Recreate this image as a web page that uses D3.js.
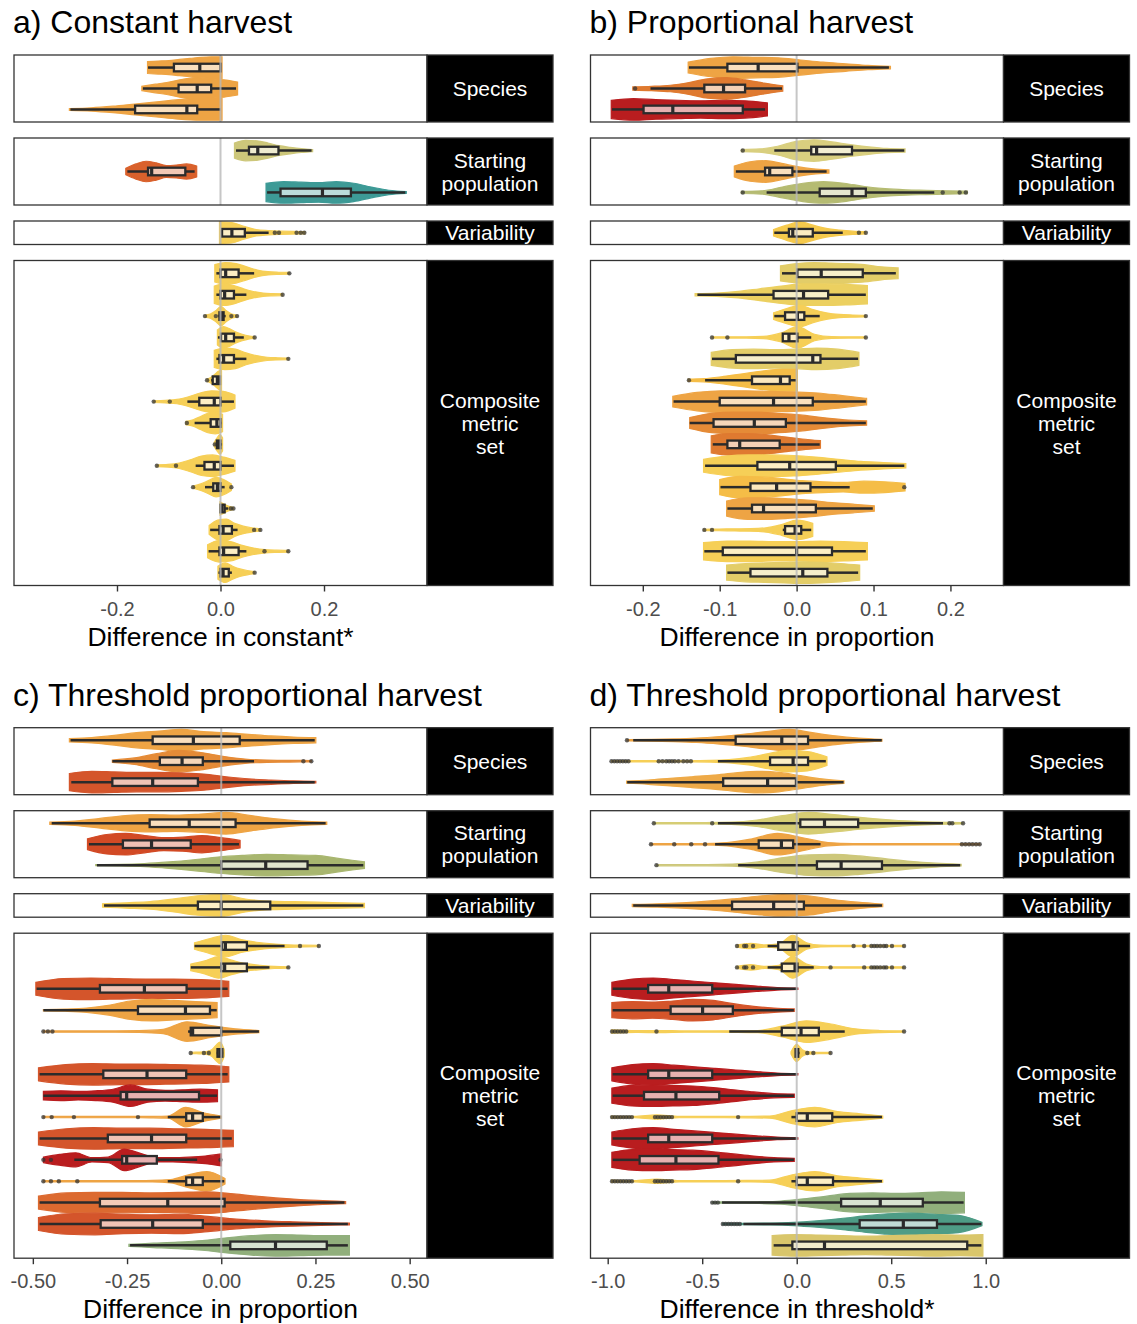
<!DOCTYPE html>
<html>
<head>
  <script src="https://d3js.org/d3.v7.min.js"></script>
  <style>
    body { margin: 0; background: #fff; }
    text { font-family: "Liberation Sans", Arial, sans-serif; }
  </style>
</head>
<body>
<div id="chart"></div>
<script>

// colours
var YEL = "#f6cf57", KHA = "#e3cd68", OLV = "#cdc77a", OLG = "#b5bb72",
    SAG = "#91af7c", TEA = "#3d9a96", TEG = "#4e9c86", SAN = "#d9c66b",
    YLO = "#f5bd47", ORA = "#eea444", ORD = "#e58b37", DOR = "#df7a30",
    ROR = "#d4552b", RED = "#b91d1f";

var facetNames = [["Species"], ["Starting", "population"], ["Variability"], ["Composite", "metric", "set"]];
var facetRows = [3, 3, 1, 15];

var panelTitles = ["a) Constant harvest", "b) Proportional harvest",
                   "c) Threshold proportional harvest", "d) Threshold proportional harvest"];
var axisTitles = ["Difference in constant*", "Difference in proportion",
                  "Difference in proportion", "Difference in threshold*"];
var axisTicks = [[-0.2, 0, 0.2], [-0.2, -0.1, 0, 0.1, 0.2],
                 [-0.5, -0.25, 0, 0.25, 0.5], [-1, -0.5, 0, 0.5, 1]];
var tickDigits = [1, 1, 2, 1];
var axisDomains = [[-0.399, 0.399], [-0.268, 0.269], [-0.550, 0.546], [-1.091, 1.094]];

// each row: [colour, violin min, violin max, violin half-widths (evenly spaced), lower whisker, q1, median, q3, upper whisker, outliers]
var constantRows = [
  [ORA, -0.141, 0.003, [0.55, 0.6, 0.65, 0.75, 0.85, 0.95, 1, 1], -0.14, -0.09, -0.04, 0.0, 0.0, []],
  [ORA, -0.152, 0.033, [0.2, 0.4, 0.6, 0.85, 1, 0.9, 0.8, 0.6], -0.15, -0.081, -0.045, -0.018, 0.03, []],
  [ORA, -0.292, 0.003, [0.08, 0.15, 0.3, 0.5, 0.7, 0.9, 1, 1], -0.29, -0.165, -0.065, -0.045, 0.0, []],
  [OLV, 0.027, 0.178, [0.7, 0.95, 0.9, 0.7, 0.45, 0.3, 0.18, 0.1], 0.03, 0.055, 0.072, 0.112, 0.176, []],
  ["#d9612c", -0.183, -0.046, [0.3, 0.7, 0.95, 0.8, 0.55, 0.6, 0.7, 0.5], -0.18, -0.14, -0.133, -0.068, -0.05, []],
  [TEA, 0.088, 0.359, [0.85, 1, 0.95, 0.9, 1, 0.85, 0.5, 0.2, 0.08], 0.09, 0.116, 0.197, 0.252, 0.357, []],
  [YEL, -0.002, 0.163, [1, 0.95, 0.6, 0.3, 0.2, 0.15, 0.12, 0.1], 0.003, 0.003, 0.022, 0.047, 0.093, [0.105, 0.113, 0.147, 0.155, 0.162]],
  [YEL, -0.011, 0.133, [0.8, 1, 0.9, 0.6, 0.3, 0.15, 0.1, 0.08], -0.008, 0.0, 0.010, 0.035, 0.065, [0.133]],
  [YEL, -0.012, 0.120, [0.8, 1, 0.85, 0.55, 0.3, 0.15, 0.1, 0.08], -0.008, 0.0, 0.008, 0.026, 0.05, [0.12]],
  [YEL, -0.030, 0.032, [0.1, 0.2, 0.5, 0.9, 0.5, 0.2, 0.1], -0.004, -0.002, 0.002, 0.006, 0.010, [-0.03, -0.009, 0.021, 0.032]],
  [YEL, -0.006, 0.066, [0.7, 1, 0.8, 0.5, 0.3, 0.15, 0.08], -0.005, 0.001, 0.010, 0.026, 0.045, [0.066]],
  [YEL, -0.012, 0.131, [0.8, 1, 0.9, 0.55, 0.3, 0.15, 0.1, 0.08], -0.008, -0.002, 0.006, 0.026, 0.05, [0.131]],
  [YEL, -0.026, 0.002, [0.1, 0.25, 0.5, 0.8, 1], -0.018, -0.015, -0.006, -0.001, 0.0, [-0.026]],
  [YEL, -0.129, 0.028, [0.08, 0.12, 0.2, 0.45, 0.8, 1, 0.95, 0.6], -0.064, -0.041, -0.012, 0.0, 0.026, [-0.129, -0.098]],
  [YEL, -0.067, 0.004, [0.15, 0.3, 0.6, 0.9, 1, 0.8], -0.05, -0.019, -0.007, 0.0, 0.002, [-0.065]],
  [YEL, -0.012, 0.004, [0.2, 0.6, 0.9, 0.6], -0.009, -0.007, -0.003, 0.0, 0.003, [-0.011]],
  [YEL, -0.123, 0.028, [0.08, 0.12, 0.25, 0.55, 0.9, 1, 0.8, 0.5], -0.048, -0.031, -0.012, 0.0, 0.026, [-0.123, -0.086]],
  [YEL, -0.053, 0.021, [0.1, 0.3, 0.6, 0.9, 0.7, 0.3], -0.03, -0.014, -0.006, 0.0, 0.008, [-0.053, 0.021]],
  [YEL, -0.001, 0.025, [0.6, 0.4, 0.2, 0.1], 0.0, 0.0, 0.003, 0.008, 0.015, [0.02, 0.025]],
  [YEL, -0.022, 0.077, [0.4, 0.9, 1, 0.6, 0.35, 0.2, 0.1], -0.02, -0.002, 0.005, 0.022, 0.033, [0.065, 0.077]],
  [YEL, -0.025, 0.131, [0.6, 1, 0.9, 0.55, 0.3, 0.15, 0.1, 0.08], -0.023, -0.002, 0.006, 0.035, 0.05, [0.085, 0.131]],
  [YEL, -0.005, 0.066, [0.6, 0.9, 0.6, 0.35, 0.2, 0.1], -0.004, 0.0, 0.005, 0.016, 0.022, [0.066]]
];

var proportionalRows = [
  [ORA, -0.141, 0.122, [0.5, 0.85, 1, 0.95, 0.9, 0.7, 0.5, 0.35, 0.2, 0.12], -0.14, -0.09, -0.05, 0.001, 0.12, []],
  [DOR, -0.213, -0.018, [0.15, 0.2, 0.3, 0.55, 0.9, 1, 0.8, 0.5, 0.25], -0.19, -0.12, -0.095, -0.067, -0.019, [-0.21]],
  [RED, -0.241, -0.038, [0.85, 1, 0.9, 0.85, 0.8, 0.85, 0.8, 0.6], -0.24, -0.199, -0.161, -0.07, -0.041, []],
  ["#d9cf7f", -0.072, 0.141, [0.1, 0.15, 0.4, 0.85, 1, 0.8, 0.55, 0.35, 0.2, 0.15], -0.029, 0.019, 0.026, 0.072, 0.14, [-0.07]],
  [ORA, -0.081, 0.042, [0.5, 0.9, 1, 0.75, 0.45, 0.25, 0.15], -0.079, -0.041, -0.035, -0.0055, 0.039, []],
  [OLG, -0.072, 0.222, [0.1, 0.15, 0.5, 0.85, 1, 0.85, 0.55, 0.35, 0.25, 0.2, 0.15, 0.12], -0.039, 0.03, 0.072, 0.09, 0.179, [-0.07, 0.19, 0.212, 0.22]],
  ["#f5c94c", -0.030, 0.090, [0.3, 0.7, 1, 0.7, 0.4, 0.25, 0.15, 0.1], -0.029, -0.01, -0.005, 0.021, 0.06, [0.081, 0.09]],
  [KHA, -0.021, 0.132, [0.7, 0.9, 1, 0.95, 0.9, 0.8, 0.6, 0.5], -0.019, 0.001, 0.032, 0.086, 0.129, []],
  ["#ecd060", -0.132, 0.092, [0.1, 0.15, 0.3, 0.55, 0.8, 1, 1, 0.95, 0.85], -0.129, -0.03, 0.009, 0.041, 0.09, []],
  [YEL, -0.030, 0.090, [0.3, 0.7, 1, 0.6, 0.3, 0.15, 0.1, 0.08], -0.029, -0.015, 0.001, 0.01, 0.03, [0.09]],
  [YEL, -0.110, 0.090, [0.06, 0.06, 0.06, 0.1, 0.4, 1, 0.3, 0.08, 0.06, 0.06], -0.018, -0.018, -0.01, 0.001, 0.019, [-0.11, -0.09, 0.09]],
  [KHA, -0.111, 0.081, [0.6, 0.85, 0.9, 0.85, 0.9, 1, 0.9, 0.6], -0.11, -0.079, 0.021, 0.031, 0.08, []],
  [YLO, -0.141, 0.001, [0.1, 0.15, 0.3, 0.5, 0.7, 0.9, 1, 1], -0.119, -0.058, -0.021, -0.009, -0.001, [-0.14]],
  [ORA, -0.161, 0.091, [0.5, 0.85, 1, 1, 0.95, 0.9, 0.8, 0.55, 0.3], -0.16, -0.1, -0.03, 0.021, 0.09, []],
  [ORD, -0.139, 0.091, [0.5, 0.9, 1, 1, 0.9, 0.75, 0.5, 0.3, 0.2], -0.139, -0.108, -0.055, -0.014, 0.09, []],
  [DOR, -0.111, 0.031, [0.8, 1, 1, 0.9, 0.7, 0.5, 0.35], -0.109, -0.09, -0.074, -0.022, 0.03, []],
  [YEL, -0.121, 0.142, [0.6, 0.9, 1, 1, 0.95, 0.8, 0.6, 0.4, 0.3, 0.2], -0.119, -0.051, -0.009, 0.051, 0.14, []],
  [YLO, -0.100, 0.141, [0.7, 1, 0.95, 0.8, 0.6, 0.5, 0.45, 0.55, 0.5, 0.35], -0.099, -0.06, -0.026, 0.018, 0.069, [0.14]],
  [ORA, -0.091, 0.101, [0.7, 1, 1, 0.9, 0.75, 0.55, 0.4, 0.25], -0.09, -0.058, -0.043, 0.025, 0.099, []],
  [YEL, -0.121, 0.021, [0.06, 0.08, 0.1, 0.12, 0.2, 0.5, 0.9, 0.6], -0.018, -0.015, -0.002, 0.006, 0.019, [-0.12, -0.11]],
  [YEL, -0.121, 0.092, [0.8, 0.95, 0.95, 0.9, 0.9, 0.95, 0.9, 0.8], -0.12, -0.096, 0.0, 0.046, 0.09, []],
  [KHA, -0.091, 0.082, [0.7, 0.85, 0.9, 0.95, 1, 0.95, 0.85, 0.7], -0.09, -0.06, 0.008, 0.04, 0.08, []]
];

var thresholdPropRows = [
  [ORA, -0.403, 0.251, [0.15, 0.25, 0.45, 0.7, 0.85, 1, 0.8, 0.7, 0.55, 0.4, 0.3, 0.25], -0.40, -0.182, -0.074, 0.049, 0.248, []],
  [ORD, -0.289, 0.239, [0.1, 0.3, 0.7, 1, 0.8, 0.45, 0.2, 0.1, 0.08, 0.06], -0.289, -0.163, -0.104, -0.049, 0.087, [0.218, 0.239]],
  [ROR, -0.403, 0.251, [0.8, 1, 0.95, 0.9, 0.9, 0.85, 0.75, 0.5, 0.3, 0.2, 0.12, 0.08], -0.398, -0.289, -0.182, -0.062, 0.248, []],
  [ORA, -0.455, 0.280, [0.1, 0.2, 0.45, 0.7, 0.8, 0.75, 0.85, 1, 0.7, 0.4, 0.2, 0.1], -0.45, -0.19, -0.085, 0.038, 0.277, []],
  ["#d24a25", -0.355, 0.050, [0.5, 0.9, 1, 0.8, 0.6, 0.65, 0.8, 0.6, 0.35], -0.351, -0.261, -0.185, -0.081, 0.047, []],
  ["#a8b66f", -0.333, 0.380, [0.05, 0.08, 0.15, 0.3, 0.5, 0.75, 0.9, 1, 0.95, 0.9, 0.6, 0.3], -0.33, 0.0, 0.118, 0.229, 0.377, []],
  [YEL, -0.315, 0.380, [0.15, 0.25, 0.35, 0.6, 0.9, 1, 0.6, 0.4, 0.35, 0.3, 0.25, 0.2], -0.311, -0.062, 0.0, 0.13, 0.377, []],
  [YEL, -0.071, 0.259, [0.3, 0.7, 1, 0.6, 0.35, 0.2, 0.12, 0.08, 0.06], -0.071, 0.002, 0.011, 0.068, 0.168, [0.209, 0.259]],
  [YEL, -0.081, 0.178, [0.3, 0.6, 1, 0.65, 0.35, 0.2, 0.1, 0.06], -0.081, 0.0, 0.009, 0.068, 0.128, [0.178]],
  [ROR, -0.492, 0.020, [0.6, 0.95, 1, 0.95, 0.9, 0.9, 0.85, 0.7], -0.49, -0.322, -0.204, -0.092, 0.017, []],
  [ORA, -0.472, -0.011, [0.06, 0.1, 0.2, 0.45, 0.85, 1, 0.9, 0.8, 0.7], -0.472, -0.221, -0.095, -0.03, -0.012, []],
  [ORA, -0.472, 0.100, [0.06, 0.06, 0.06, 0.06, 0.08, 0.2, 0.9, 0.55, 0.25, 0.1], -0.088, -0.081, -0.076, 0.0, 0.1, [-0.472, -0.46, -0.448]],
  [YEL, -0.081, 0.008, [0.06, 0.07, 0.08, 0.1, 0.15, 0.3, 0.7, 1, 0.3], -0.012, -0.01, -0.004, 0.003, 0.005, [-0.081, -0.046, -0.033]],
  [ROR, -0.485, 0.020, [0.6, 0.9, 1, 0.95, 0.95, 0.9, 0.85, 0.7], -0.482, -0.313, -0.197, -0.093, 0.017, []],
  [RED, -0.472, -0.010, [0.4, 0.45, 0.4, 0.45, 0.6, 1, 0.6, 0.5, 0.55, 0.6, 0.55], -0.472, -0.267, -0.251, -0.059, -0.011, []],
  [ORA, -0.472, 0.000, [0.06, 0.06, 0.06, 0.06, 0.06, 0.06, 0.07, 0.1, 0.9, 0.4, 0.1], -0.142, -0.093, -0.076, -0.049, -0.002, [-0.472, -0.45, -0.391, -0.221]],
  [ROR, -0.485, 0.032, [0.6, 0.9, 1, 0.95, 0.95, 0.9, 0.85, 0.75], -0.482, -0.301, -0.185, -0.093, 0.028, []],
  [RED, -0.472, 0.000, [0.25, 0.5, 0.65, 0.2, 0.25, 1, 0.6, 0.2, 0.2, 0.25, 0.35, 0.55], -0.39, -0.263, -0.251, -0.171, -0.064, [-0.472, -0.452, -0.002]],
  [ORA, -0.472, 0.010, [0.06, 0.06, 0.06, 0.06, 0.06, 0.06, 0.07, 0.15, 0.6, 0.9, 0.25], -0.142, -0.093, -0.076, -0.049, 0.008, [-0.472, -0.452, -0.431, -0.382]],
  ["#dc6a30", -0.485, 0.330, [0.6, 0.9, 0.95, 0.95, 0.9, 0.95, 1, 0.8, 0.55, 0.35, 0.2, 0.1], -0.482, -0.322, -0.142, 0.009, 0.327, []],
  [ROR, -0.485, 0.340, [0.6, 0.95, 1, 0.9, 0.85, 0.9, 0.7, 0.45, 0.3, 0.2, 0.12, 0.08], -0.482, -0.32, -0.182, -0.049, 0.336, []],
  [SAG, -0.245, 0.340, [0.1, 0.2, 0.3, 0.45, 0.7, 0.9, 1, 0.95, 0.9, 0.9], -0.242, 0.024, 0.144, 0.28, 0.336, []]
];

var thresholdRows = [
  [ORA, -0.898, 0.451, [0.06, 0.08, 0.12, 0.2, 0.35, 0.55, 0.8, 1, 0.7, 0.4, 0.2, 0.08], -0.865, -0.323, -0.079, 0.06, 0.45, [-0.898]],
  [YEL, -0.980, 0.160, [0.06, 0.06, 0.06, 0.06, 0.06, 0.08, 0.15, 0.35, 0.7, 1, 0.9, 0.4], -0.417, -0.141, -0.019, 0.06, 0.154,
    [-0.98, -0.965, -0.95, -0.935, -0.92, -0.905, -0.89, -0.73, -0.71, -0.69, -0.675, -0.66, -0.645, -0.625, -0.6, -0.58, -0.56]],
  ["#eeaa48", -0.900, 0.250, [0.1, 0.2, 0.35, 0.5, 0.65, 0.85, 1, 0.9, 0.6, 0.3, 0.12], -0.897, -0.389, -0.154, -0.004, 0.248, []],
  ["#d6cd74", -0.756, 0.880, [0.06, 0.06, 0.06, 0.1, 0.3, 0.7, 1, 0.8, 0.55, 0.35, 0.2, 0.1, 0.06], -0.417, 0.019, 0.147, 0.325, 0.774, [-0.756, -0.447, 0.808, 0.823, 0.88]],
  [ORA, -0.771, 0.968, [0.06, 0.06, 0.06, 0.15, 0.5, 1, 0.6, 0.15, 0.06, 0.06, 0.06, 0.06, 0.06, 0.06], -0.432, -0.201, -0.081, -0.019, 0.126,
    [-0.771, -0.648, -0.558, -0.485, 0.874, 0.893, 0.912, 0.93, 0.949, 0.968]],
  [OLV, -0.742, 0.870, [0.06, 0.06, 0.06, 0.1, 0.3, 0.7, 0.95, 1, 0.85, 0.6, 0.35, 0.18, 0.08], -0.31, 0.107, 0.235, 0.451, 0.865, [-0.742]],
  [ORA, -0.870, 0.455, [0.1, 0.15, 0.25, 0.4, 0.6, 0.85, 1, 0.9, 0.55, 0.3, 0.12], -0.865, -0.342, -0.122, 0.038, 0.451, []],
  [YEL, -0.316, 0.568, [0.1, 0.25, 0.1, 0.2, 1, 0.3, 0.08, 0.06, 0.06, 0.06, 0.06, 0.06, 0.06], -0.154, -0.098, -0.019, 0.004, 0.071,
    [-0.316, -0.278, -0.267, -0.231, 0.301, 0.357, 0.395, 0.41, 0.425, 0.442, 0.461, 0.474, 0.504, 0.568]],
  [YEL, -0.316, 0.568, [0.1, 0.25, 0.1, 0.2, 1, 0.3, 0.08, 0.06, 0.06, 0.06, 0.06, 0.06, 0.06], -0.154, -0.079, -0.009, 0.004, 0.09,
    [-0.316, -0.278, -0.267, -0.231, 0.179, 0.357, 0.395, 0.41, 0.425, 0.442, 0.461, 0.474, 0.504, 0.568]],
  [RED, -0.978, 0.006, [0.6, 0.9, 1, 0.85, 0.7, 0.55, 0.4, 0.25, 0.12, 0.06], -0.974, -0.786, -0.677, -0.447, 0.004, []],
  [ROR, -0.978, -0.013, [0.7, 0.8, 0.75, 0.85, 1, 0.9, 0.6, 0.35, 0.2, 0.12], -0.974, -0.667, -0.498, -0.338, -0.015, []],
  [YEL, -0.980, 0.568, [0.15, 0.08, 0.1, 0.06, 0.06, 0.07, 0.1, 0.5, 1, 0.7, 0.25, 0.1, 0.06], -0.357, -0.079, 0.023, 0.117, 0.254,
    [-0.977, -0.962, -0.947, -0.932, -0.917, -0.902, -0.742, 0.568]],
  [YEL, -0.030, 0.179, [0.1, 0.8, 0.3, 0.12, 0.08, 0.06, 0.06, 0.06], -0.009, -0.006, 0.0, 0.008, 0.015, [0.056, 0.088, 0.179]],
  [RED, -0.978, 0.006, [0.6, 0.9, 1, 0.85, 0.7, 0.55, 0.4, 0.25, 0.12, 0.06], -0.974, -0.786, -0.677, -0.447, 0.004, []],
  [RED, -0.978, -0.013, [0.7, 0.95, 1, 0.95, 0.9, 0.75, 0.55, 0.35, 0.2, 0.15], -0.974, -0.808, -0.639, -0.41, -0.015, []],
  [YEL, -0.980, 0.455, [0.1, 0.06, 0.2, 0.06, 0.06, 0.06, 0.07, 0.1, 0.6, 0.9, 0.5, 0.3, 0.1], -0.028, 0.0, 0.056, 0.188, 0.451,
    [-0.977, -0.962, -0.947, -0.932, -0.917, -0.902, -0.887, -0.872, -0.75, -0.735, -0.72, -0.705, -0.69, -0.675, -0.66, -0.31]],
  [RED, -0.978, 0.006, [0.6, 0.9, 1, 0.85, 0.7, 0.55, 0.4, 0.25, 0.12, 0.06], -0.974, -0.786, -0.677, -0.447, 0.004, []],
  [RED, -0.978, -0.013, [0.7, 0.95, 1, 0.95, 0.9, 0.75, 0.55, 0.35, 0.2, 0.15], -0.974, -0.831, -0.639, -0.414, -0.015, []],
  [YEL, -0.980, 0.455, [0.1, 0.06, 0.2, 0.06, 0.06, 0.06, 0.07, 0.1, 0.6, 0.9, 0.5, 0.3, 0.1], -0.028, 0.0, 0.056, 0.192, 0.451,
    [-0.977, -0.962, -0.947, -0.932, -0.917, -0.902, -0.887, -0.872, -0.75, -0.735, -0.72, -0.705, -0.69, -0.675, -0.66, -0.31]],
  [SAG, -0.447, 0.887, [0.06, 0.06, 0.08, 0.15, 0.35, 0.6, 0.85, 0.9, 0.85, 0.9, 1, 0.95], -0.395, 0.235, 0.442, 0.667, 0.883, [-0.447, -0.432, -0.417]],
  [TEG, -0.391, 0.980, [0.06, 0.06, 0.08, 0.15, 0.3, 0.5, 0.75, 0.95, 1, 0.9, 0.8, 0.15], -0.282, 0.333, 0.564, 0.742, 0.977,
    [-0.391, -0.376, -0.361, -0.346, -0.331, -0.316, -0.301]],
  [SAN, -0.130, 0.985, [0.9, 1, 0.95, 0.9, 0.85, 0.9, 0.95, 1, 0.95, 1], -0.122, -0.023, 0.147, 0.902, 0.977, []]
];

var panels = [constantRows, proportionalRows, thresholdPropRows, thresholdRows];

// layout
var panelLeft = [14, 590.5], panelTop = [55, 727.7];
var plotW = 413, stripW = 126, facetH = [67, 67, 23.5, 325], facetGap = 16, halfW = 10.8;

var svg = d3.select("#chart").append("svg")
  .attr("width", 1137)
  .attr("height", 1324);

svg.append("rect").attr("width", 1137).attr("height", 1324).attr("fill", "#fff");

function drawRow(g, r, x, cy) {
  var col = r[0], vmin = r[1], vmax = r[2], prof = r[3],
      lo = r[4], q1 = r[5], med = r[6], q3 = r[7], hi = r[8], outs = r[9];
  var step = (vmax - vmin) / (prof.length - 1);
  var pts = prof.map(function(w, k) { return [vmin + k * step, w]; });

  var area = d3.area()
    .curve(d3.curveMonotoneX)
    .x(function(d) { return x(d[0]); })
    .y0(function(d) { return cy - d[1] * halfW; })
    .y1(function(d) { return cy + d[1] * halfW; });

  g.append("path")
    .attr("d", area(pts))
    .attr("fill", col)
    .attr("stroke", col)
    .attr("stroke-width", 1.2);

  // whiskers, left and right of the box
  [[lo, q1], [q3, hi]].forEach(function(w) {
    g.append("line")
      .attr("x1", x(w[0])).attr("x2", x(w[1]))
      .attr("y1", cy).attr("y2", cy)
      .attr("stroke", "#2b2b2b").attr("stroke-width", 2.5);
  });

  // outliers
  g.selectAll(null)
    .data(outs)
    .enter().append("circle")
    .attr("cx", function(d) { return x(d); })
    .attr("cy", cy)
    .attr("r", 2.2)
    .attr("fill", "#333")
    .attr("fill-opacity", 0.75);

  // box
  g.append("rect")
    .attr("x", x(q1))
    .attr("y", cy - 3.8)
    .attr("width", Math.max(x(q3) - x(q1), 0.5))
    .attr("height", 7.6)
    .attr("fill", "#fff")
    .attr("fill-opacity", 0.65)
    .attr("stroke", "#2b2b2b")
    .attr("stroke-width", 2.3);

  g.append("line")
    .attr("x1", x(med)).attr("x2", x(med))
    .attr("y1", cy - 3.8).attr("y2", cy + 3.8)
    .attr("stroke", "#2b2b2b").attr("stroke-width", 3.2);
}

panels.forEach(function(rows, pi) {
  var x0 = panelLeft[pi % 2], y0 = panelTop[Math.floor(pi / 2)];
  var x = d3.scaleLinear().domain(axisDomains[pi]).range([x0, x0 + plotW]);
  var g = svg.append("g");

  g.append("text")
    .attr("x", x0 - 1)
    .attr("y", y0 - 22)
    .style("font-size", "32px")
    .attr("fill", "#000")
    .text(panelTitles[pi]);

  var top = y0, start = 0;
  facetRows.forEach(function(n, fi) {
    var h = facetH[fi];
    var fr = rows.slice(start, start + n);
    start += n;

    var y = d3.scalePoint()
      .domain(d3.range(n))
      .range([top, top + h])
      .padding(0.6);

    var f = g.append("g");

    fr.forEach(function(r, i) { drawRow(f, r, x, y(i)); });

    // zero reference line
    f.append("line")
      .attr("x1", x(0)).attr("x2", x(0))
      .attr("y1", top).attr("y2", top + h)
      .attr("stroke", "#b8b8b8")
      .attr("stroke-opacity", 0.8)
      .attr("stroke-width", 2);

    f.append("rect")
      .attr("x", x0).attr("y", top)
      .attr("width", plotW).attr("height", h)
      .attr("fill", "none")
      .attr("stroke", "#333")
      .attr("stroke-width", 1.3);

    // strip
    f.append("rect")
      .attr("x", x0 + plotW).attr("y", top)
      .attr("width", stripW).attr("height", h)
      .attr("fill", "#000")
      .attr("stroke", "#333")
      .attr("stroke-width", 1.3);

    var lines = facetNames[fi];
    f.append("text")
      .attr("x", x0 + plotW + stripW / 2)
      .attr("y", top + h / 2)
      .attr("text-anchor", "middle")
      .attr("fill", "#fff")
      .style("font-size", "21px")
      .selectAll("tspan")
      .data(lines)
      .enter().append("tspan")
      .attr("x", x0 + plotW + stripW / 2)
      .attr("dy", function(d, i) { return i === 0 ? (0.36 * 21 - (lines.length - 1) * 11.5) + "px" : "23px"; })
      .text(function(d) { return d; });

    top += h + facetGap;
  });

  var bottom = top - facetGap;
  var digits = tickDigits[pi];
  var axis = g.append("g")
    .attr("transform", "translate(0," + bottom + ")")
    .call(d3.axisBottom(x)
      .tickValues(axisTicks[pi])
      .tickFormat(function(d) { return d.toFixed(digits); })
      .tickSize(6)
      .tickPadding(10));
  axis.select(".domain").remove();
  axis.selectAll(".tick line").attr("stroke", "#333").attr("stroke-width", 1.4);
  axis.selectAll(".tick text")
    .attr("fill", "#4d4d4d")
    .style("font-size", "20px")
    .style("font-family", "'Liberation Sans', Arial, sans-serif");

  g.append("text")
    .attr("x", x0 + plotW / 2)
    .attr("y", bottom + 60)
    .attr("text-anchor", "middle")
    .style("font-size", "26.5px")
    .attr("fill", "#000")
    .text(axisTitles[pi]);
});

</script>
</body>
</html>
